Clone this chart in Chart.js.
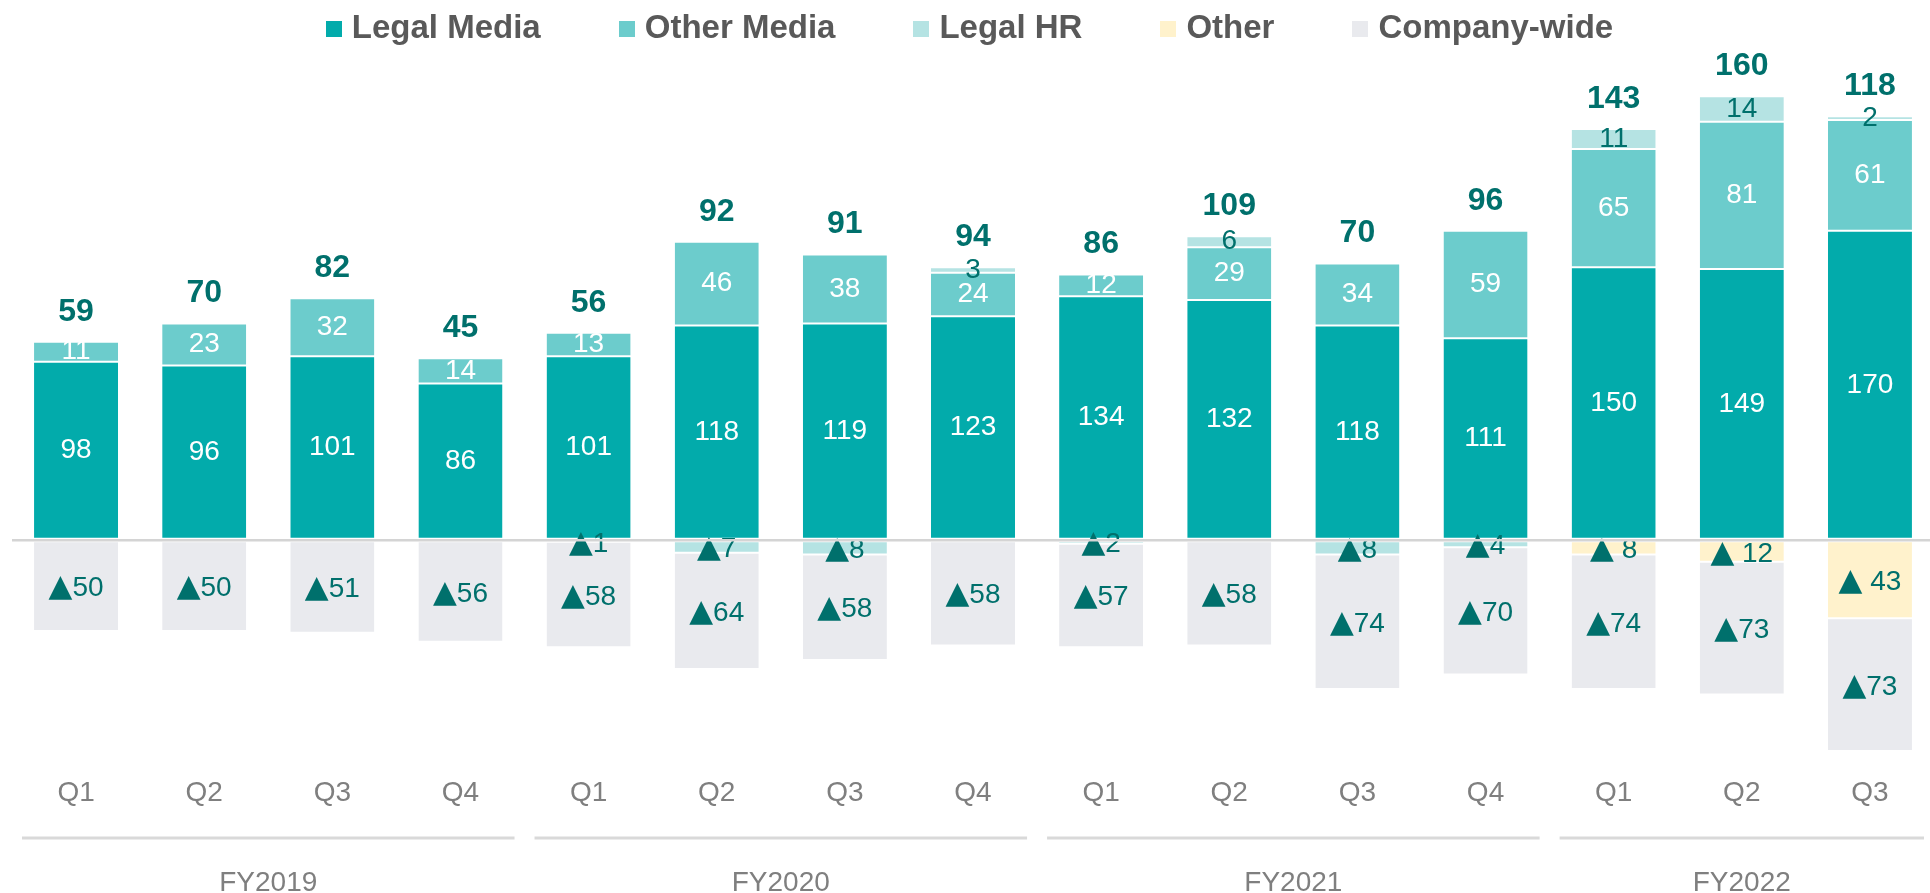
<!DOCTYPE html>
<html>
<head>
<meta charset="utf-8">
<title>Quarterly segment results</title>
<script src="https://cdn.jsdelivr.net/npm/chart.js@4.4.0/dist/chart.umd.min.js"></script>
<style>
  html, body { margin: 0; padding: 0; background: #fff; overflow: hidden; }
  #wrap { position: relative; width: 1934px; height: 893px; }
  #legend {
    position: absolute; top: 7px; left: 0; width: 1930px; padding-left: 9px; box-sizing: border-box;
    display: flex; justify-content: center; z-index: 2;
    font: bold 33px 'Liberation Sans', Arial, sans-serif; line-height: 40px; color: #595959;
  }
  .item { display: flex; align-items: center; margin: 0 39px; white-space: nowrap; }
  .box { width: 16px; height: 16px; margin-right: 10px; position: relative; top: 2px; box-sizing: border-box; }
</style>
</head>
<body>
<div id="wrap">
  <div id="legend"></div>
  <canvas id="chart"></canvas>
</div>
<script>
// --- data ---
const quarters = ['Q1', 'Q2', 'Q3', 'Q4', 'Q1', 'Q2', 'Q3', 'Q4', 'Q1', 'Q2', 'Q3', 'Q4', 'Q1', 'Q2', 'Q3'];
const fiscalYears = ['FY2019', 'FY2020', 'FY2021', 'FY2022'];
const quartersPerYear = [4, 4, 4, 3];

const legalMedia = [98, 96, 101, 86, 101, 118, 119, 123, 134, 132, 118, 111, 150, 149, 170];
const otherMedia = [11, 23, 32, 14, 13, 46, 38, 24, 12, 29, 34, 59, 65, 81, 61];
const legalHR = [null, null, null, null, -1, -7, -8, 3, -2, 6, -8, -4, 11, 14, 2];
const other = [null, null, null, null, null, null, null, null, null, null, null, null, -8, -12, -43];
const companyWide = [-50, -50, -51, -56, -58, -64, -58, -58, -57, -58, -74, -70, -74, -73, -73];
const totals = [59, 70, 82, 45, 56, 92, 91, 94, 86, 109, 70, 96, 143, 160, 118];

const FONT = "'Liberation Sans', Arial, sans-serif";
const TRI_FONT = "31px 'DejaVu Sans', sans-serif";
const DARK_TEAL = '#00706c';

const series = [
    { label: 'Legal Media', data: legalMedia, color: '#02abab', text: '#ffffff' },
    { label: 'Other Media', data: otherMedia, color: '#6ccccc', text: '#ffffff' },
    { label: 'Legal HR', data: legalHR, color: '#b5e3e3', text: DARK_TEAL },
    { label: 'Other', data: other, color: '#fff2cc', text: DARK_TEAL, spaced: true },
    { label: 'Company-wide', data: companyWide, color: '#e9eaee', text: DARK_TEAL }
];

// legend (HTML)
const legendEl = document.getElementById('legend');
series.forEach(s => {
    const item = document.createElement('div');
    item.className = 'item';
    const box = document.createElement('span');
    box.className = 'box';
    box.style.background = s.color;
    const txt = document.createElement('span');
    txt.textContent = s.label;
    item.appendChild(box);
    item.appendChild(txt);
    legendEl.appendChild(item);
});

// negative values are written as "▲n"
function drawNegative(ctx, v, spaced, cx, cy) {
    const num = (spaced ? ' ' : '') + (-v);
    ctx.font = TRI_FONT;
    const tw = ctx.measureText('▲').width;
    ctx.font = `28px ${FONT}`;
    const nw = ctx.measureText(num).width;
    const x0 = cx - (tw + nw) / 2;
    const base = cy + 10;
    ctx.textAlign = 'left';
    ctx.textBaseline = 'alphabetic';
    ctx.font = TRI_FONT;
    ctx.fillText('▲', x0, base);
    ctx.font = `28px ${FONT}`;
    ctx.fillText(num, x0 + tw, base);
}

// segment values + totals on top
const labelPlugin = {
    id: 'segmentLabels',
    afterDatasetsDraw(chart) {
        const ctx = chart.ctx;
        ctx.save();
        const tops = [];
        series.forEach((s, di) => {
            const meta = chart.getDatasetMeta(di);
            meta.data.forEach((bar, i) => {
                const v = s.data[i];
                if (v === null) return;
                const cy = (bar.y + bar.base) / 2;
                ctx.fillStyle = s.text;
                if (v > 0) {
                    tops[i] = Math.min(tops[i] ?? Infinity, bar.y);
                    ctx.font = `28px ${FONT}`;
                    ctx.textAlign = 'center';
                    ctx.textBaseline = 'middle';
                    ctx.fillText(String(v), bar.x, cy);
                } else {
                    drawNegative(ctx, v, s.spaced, bar.x, cy);
                }
            });
        });
        ctx.font = `bold 32px ${FONT}`;
        ctx.textAlign = 'center';
        ctx.textBaseline = 'middle';
        ctx.fillStyle = DARK_TEAL;
        const xs = chart.scales.x;
        totals.forEach((t, i) => {
            ctx.fillText(String(t), xs.getPixelForValue(i), tops[i] - 30);
        });
        ctx.restore();
    }
};

// fiscal year brackets under the quarter labels
const groupPlugin = {
    id: 'fiscalGroups',
    afterDraw(chart) {
        const xs = chart.scales.x;
        const ctx = chart.ctx;
        const half = (xs.getPixelForValue(1) - xs.getPixelForValue(0)) / 2;
        const lineY = xs.bottom + 28;
        const textY = xs.bottom + 73;
        let start = 0;
        ctx.save();
        ctx.textAlign = 'center';
        ctx.textBaseline = 'middle';
        ctx.font = `28px ${FONT}`;
        fiscalYears.forEach((fy, g) => {
            const end = start + quartersPerYear[g] - 1;
            const left = xs.getPixelForValue(start) - half + 10;
            const right = xs.getPixelForValue(end) + half - 10;
            ctx.strokeStyle = '#d9d9d9';
            ctx.lineWidth = 3;
            ctx.beginPath();
            ctx.moveTo(left, lineY);
            ctx.lineTo(right, lineY);
            ctx.stroke();
            ctx.fillStyle = '#7f7f7f';
            ctx.fillText(fy, (left + right) / 2, textY);
            start = end + 1;
        });
        ctx.restore();
    }
};

new Chart(document.getElementById('chart'), {
    type: 'bar',
    data: {
        labels: quarters,
        datasets: series.map(s => ({
            label: s.label,
            data: s.data,
            backgroundColor: s.color,
            borderColor: '#ffffff',
            borderWidth: { top: 1, bottom: 1, left: 0, right: 0 },
            borderSkipped: false,
            categoryPercentage: 1,
            barPercentage: 0.656
        }))
    },
    options: {
        responsive: true,
        maintainAspectRatio: false,
        animation: false,
        layout: { padding: { top: 49, bottom: 83, left: 12, right: 0 } },
        plugins: { legend: { display: false }, tooltip: { enabled: false } },
        scales: {
            x: {
                stacked: true,
                grid: { display: false, drawTicks: false },
                border: { display: false },
                ticks: { color: '#7f7f7f', font: { family: FONT, size: 28 }, padding: 0 }
            },
            y: {
                stacked: true,
                min: -130,
                max: 270,
                grid: {
                    z: 1,
                    drawTicks: false,
                    lineWidth: 2.5,
                    color: c => (c.tick.value === 0 ? '#d4d4d4' : 'rgba(0,0,0,0)')
                },
                border: { display: false },
                ticks: { display: false, stepSize: 10 }
            }
        }
    },
    plugins: [labelPlugin, groupPlugin]
});
</script>
</body>
</html>
